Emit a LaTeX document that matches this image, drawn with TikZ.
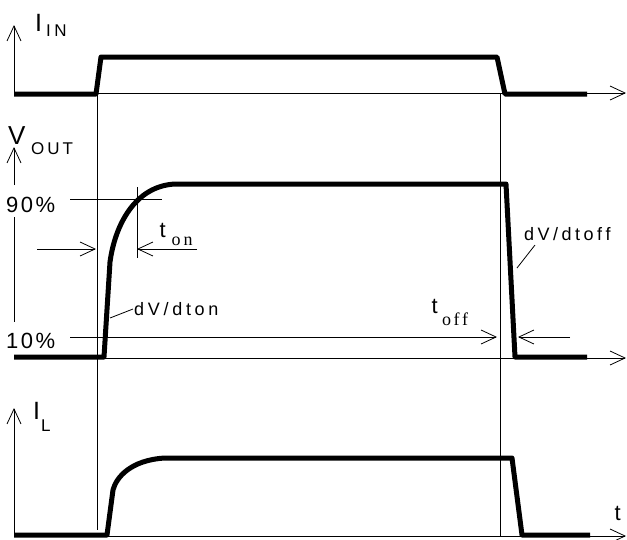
\documentclass[tikz,border=0pt]{standalone}
\usepackage{fontspec}
\setmainfont{Liberation Sans}
\newfontfamily\seriffont{Liberation Serif}
\usetikzlibrary{arrows.meta}
\newdimen\lsamt \lsamt=4pt
\def\lsEnd{}
\newcommand\ls[2][4pt]{\lsamt=#1\relax\lsA#2\lsEnd}
\def\lsA#1{\ifx#1\lsEnd\else#1\expandafter\lsB\fi}
\def\lsB#1{\ifx#1\lsEnd\else\kern\lsamt\relax#1\expandafter\lsB\fi}
\begin{document}
\begin{tikzpicture}[x=1pt,y=-1pt,
  thinline/.style={line width=0.8pt},
  ax/.style={thinline,-{Straight Barb[length=15pt,width=14pt,line width=0.8pt]}},
  sig/.style={line width=5pt,line join=round,line cap=butt},
  lbl/.style={inner sep=0pt,anchor=base west},
  big/.style={lbl,font=\fontsize{25}{25}\selectfont},
  sub/.style={lbl,font=\fontsize{17}{17}\selectfont},
  mid/.style={lbl,font=\fontsize{22}{22}\selectfont},
  small/.style={lbl,font=\fontsize{18}{18}\selectfont},
  ser/.style={lbl,font=\seriffont\fontsize{18}{18}\selectfont}]
\useasboundingbox (0,0) rectangle (627,539);

% ---- panel 1: I_IN
\draw[ax] (14,93) -- (14,25);
\draw[ax] (14,93) -- (626,93);
\node[big] (iin) at (35,31) {I};
\node[sub] (iinsub) at (46,36) {\ls[3.5pt]{IN}};
\draw[sig] (14,94) -- (96,94) -- (101,57) -- (497,57) -- (505,94) -- (587,94);

% vertical markers
\draw[thinline] (97,93) -- (97,530);
\draw[thinline] (500,93) -- (500,537);

% ---- panel 2: V_OUT
\draw[ax] (14,185) -- (14,147);
\draw[thinline] (14,217) -- (14,322);
\draw[ax] (14,358) -- (626,358);
\node[big,font=\fontsize{26}{26}\selectfont] (vout) at (8,144) {V};
\node[sub] (voutsub) at (31,154) {\ls[3pt]{OUT}};
\node[mid] (p90) at (6,212) {\ls[2.5pt]{90\%}};
\node[mid] (p10) at (6,348) {\ls[2.5pt]{10\%}};
\draw[thinline] (70,199) -- (162,199);
\draw[thinline] (137,187) -- (137,258);
\draw[ax] (197,249) -- (137,249);
\draw[ax] (37,249) -- (96,249);
\draw[ax] (70,337) -- (497,337);
\draw[ax] (570,337) -- (518,337);
\node[mid] (ton) at (159.5,237) {t};
\node[ser] (tonsub) at (171.5,245) {\ls[3pt]{on}};
\node[mid] (toff) at (431.5,313) {t};
\node[ser] (toffsub) at (442,325) {\ls[2.5pt]{off}};
\node[small] (dvon) at (134,315) {\ls[3.7pt]{dV/dton}};
\node[small] (dvoff) at (524,240) {\ls[3.5pt]{dV/dtoff}};
\coordinate (dvonleg) at (110,318);
\coordinate (dvoffleg) at (517,268);
\draw[thinline] (dvonleg) -- (133,309);
\draw[thinline] (dvoffleg) -- (535,245);
\draw[sig] (14,357) -- (104,357) -- (110,262) .. controls (115,225) and (135,186) .. (175,184) -- (506,184) -- (515,357) -- (587,357);

% ---- panel 3: I_L
\draw[ax] (14,536) -- (14,408);
\draw[ax] (14,536) -- (626,536);
\node[big] (il) at (33,419) {I};
\node[sub] (ilsub) at (41,431) {L};
\node[mid] (tax) at (614.5,520) {t};
\draw[sig] (14,535) -- (107,535) -- (113,490) .. controls (116,478) and (130,460) .. (165,458) -- (512,458) -- (522,535) -- (590,535);
\end{tikzpicture}
\end{document}
